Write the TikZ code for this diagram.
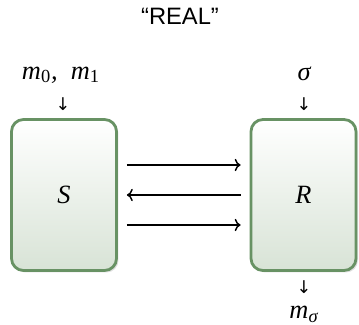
\documentclass[tikz,border=0pt]{standalone}
\usepackage{fontspec}
\setmainfont{Liberation Serif}
\newfontfamily\titlefont{Liberation Sans}
\newfontfamily\arrowfont{DejaVu Sans}
\definecolor{boxgreen}{RGB}{104,146,100}
\definecolor{boxfill}{RGB}{216,227,214}
\usetikzlibrary{arrows.meta,positioning,shadows}
\tikzset{
  party/.style={draw=boxgreen,line width=1.6pt,rounded corners=0.24cm,
    top color=white,bottom color=boxfill,minimum width=2.1cm,minimum height=3.02cm,
    drop shadow={shadow xshift=0.04cm,shadow yshift=-0.04cm,opacity=0.25}},
  msg/.style={->,line width=0.8pt,shorten <=0.18cm,shorten >=0.18cm},
  inarrow/.style={font=\arrowfont\fontsize{10}{10}\selectfont,inner sep=0pt},
  val/.style={inner sep=0pt}
}
\begin{document}
\begin{tikzpicture}[font=\fontsize{15}{17}\selectfont\itshape]
  \useasboundingbox (0,0) rectangle (7.18,6.5);
  \node[font=\titlefont\fontsize{13.5}{15}\selectfont] (title) at (3.6,6.18) {“REAL”};
  \node[party] (S) at (1.28,2.6) {S};
  \node[party] (R) at (6.07,2.6) {R};
  % inputs and output
  \node[inarrow] (inS) at (1.26,4.42) {↓};
  \node[val] (mS) at (1.22,5.0) {m\textsubscript{\upshape 0},\ \ m\textsubscript{\upshape 1}};
  \node[inarrow] (inR) at (6.08,4.42) {↓};
  \node[val] (sR) at (6.08,5.02) {σ};
  \node[inarrow] (outR) at (6.08,0.76) {↓};
  \node[val] (mR) at (6.08,0.22) {m\textsubscript{σ}};
  % messages
  \draw[msg] ([yshift=0.6cm]S.east) -- ([yshift=0.6cm]R.west);
  \draw[msg] (R.west) -- (S.east);
  \draw[msg] ([yshift=-0.6cm]S.east) -- ([yshift=-0.6cm]R.west);
\end{tikzpicture}
\end{document}
